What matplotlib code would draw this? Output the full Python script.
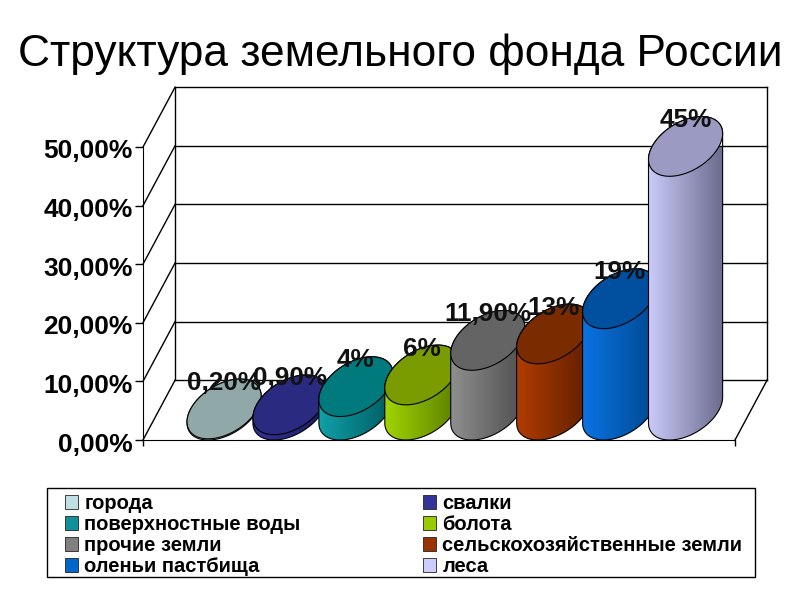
import numpy as np
import matplotlib
matplotlib.use("Agg")
import matplotlib.pyplot as plt
from matplotlib.colors import to_rgb
from matplotlib.patches import Patch, Polygon, Rectangle
from matplotlib.path import Path
from matplotlib.transforms import ScaledTranslation

plt.rcParams["font.family"] = ["Liberation Sans", "DejaVu Sans"]

title = "Структура земельного фонда России"
categories = ["города", "свалки", "поверхностные воды", "болота", "прочие земли",
              "сельскохозяйственные земли", "оленьи пастбища", "леса"]
values = [0.2, 0.9, 4, 6, 11.9, 13, 19, 45]
value_labels = ["0,20%", "0,90%", "4%", "6%", "11,90%", "13%", "19%", "45%"]
y_ticks = [0, 10, 20, 30, 40, 50]
y_tick_labels = ["0,00%", "10,00%", "20,00%", "30,00%", "40,00%", "50,00%"]

left_colors = ["#c4e2e6", "#333399", "#10a0a8", "#a0d400", "#8e8e8e", "#b03c00", "#0a72e2", "#cbcbfb"]
right_colors = ["#7f9494", "#1b1b62", "#005a60", "#5a7c00", "#4e4e4e", "#5e1e00", "#00488e", "#6c6c8e"]
cap_colors = ["#90a8a8", "#2a2a80", "#007a7c", "#7a9c00", "#646464", "#7a2c00", "#00509f", "#9a9ac2"]
legend_colors = ["#c0e0e4", "#333399", "#109098", "#99cc00", "#808080", "#993300", "#0066cc", "#ccccff"]

# depth of the floor and size of the cylinders, in data units
depth_x, depth_y = 0.486, 10.2
radius_x, shear_x, radius_y = 0.507, 0.243, 5.1


def ellipse(center_x, center_y, t):
    x = center_x + radius_x * np.cos(t) + shear_x * np.sin(t)
    y = center_y + radius_y * np.sin(t)
    return np.column_stack([x, y])


fig = plt.figure(figsize=(8, 6), dpi=100)
fig.text(0.5, 0.91, title, ha="center", va="center", fontsize=31.9)

ax = fig.add_axes([143 / 800, 160 / 600, 592 / 800, 293 / 600])
ax.patch.set_alpha(0)
xlim = (-1.23, 7.75)
ylim = (0, 50)

# walls and floor behind the cylinders
wall = dict(color="black", lw=1, clip_on=False, zorder=1)
for y in y_ticks:
    ax.plot([xlim[0], xlim[0] + depth_x], [y, y + depth_y], **wall)
    ax.plot([xlim[0] + depth_x, xlim[1] + depth_x], [y + depth_y, y + depth_y], **wall)
ax.plot([xlim[0] + depth_x, xlim[0] + depth_x], [depth_y, ylim[1] + depth_y], **wall)
ax.plot([xlim[1] + depth_x, xlim[1] + depth_x], [depth_y, ylim[1] + depth_y], **wall)
ax.plot([xlim[1], xlim[1] + depth_x], [0, depth_y], **wall)

t0 = np.arctan2(shear_x, radius_x)
lower_arc = np.linspace(t0 + np.pi, t0 + 2 * np.pi, 60)
upper_arc = np.linspace(t0, t0 + np.pi, 60)
half_width = np.hypot(radius_x, shear_x)

for i, value in enumerate(values):
    z = 3 + i
    base_y = radius_y
    top_y = value + radius_y
    outline = np.vstack([ellipse(i, base_y, lower_arc), ellipse(i, top_y, upper_arc)])
    body = Polygon(outline, closed=True, fc="none", ec="black", lw=0.8, clip_on=False, zorder=z + 0.2)
    ax.add_patch(body)

    # shading across the body, light on the left and dark on the right
    mix = np.linspace(0, 1, 64)[:, None]
    shade = (1 - mix) * np.array(to_rgb(left_colors[i])) + mix * np.array(to_rgb(right_colors[i]))
    img = ax.imshow(shade[None, :, :], extent=(i - half_width, i + half_width, 0, top_y + radius_y),
                    aspect="auto", interpolation="bilinear", zorder=z, clip_on=True)
    img.set_clip_path(Path(outline), ax.transData)

    cap = Polygon(ellipse(i, top_y, np.linspace(0, 2 * np.pi, 120)), closed=True, fc=cap_colors[i],
                  ec="black", lw=0.8, clip_on=False, zorder=z + 0.3)
    ax.add_patch(cap)

for i, value in enumerate(values):
    ax.text(i, value + 2 * radius_y - 0.6, value_labels[i], ha="center", va="center",
            fontsize=18.8, fontweight="bold", color="#111111", zorder=20, clip_on=False)

ax.set_xlim(xlim)
ax.set_ylim(ylim)
ax.set_xticks(xlim)
ax.set_xticklabels([])
ax.set_yticks(y_ticks)
ax.set_yticklabels(y_tick_labels, fontsize=19, fontweight="bold")
ax.tick_params(axis="y", length=5.5, width=1, pad=2)
ax.tick_params(axis="x", length=4, width=1)
ax.spines["top"].set_visible(False)
ax.spines["right"].set_visible(False)
nudge = ScaledTranslation(0, -2 / 100, fig.dpi_scale_trans)
for tick_label in ax.get_yticklabels():
    tick_label.set_transform(tick_label.get_transform() + nudge)

# legend is filled column by column, the reference reads row by row
fig.add_artist(Rectangle((47 / 800, 23 / 600), 708 / 800, 89 / 600, transform=fig.transFigure,
                         fc="white", ec="black", lw=1))
order = list(range(0, 8, 2)) + list(range(1, 8, 2))
handles = [Patch(fc=legend_colors[i], ec="#222222", lw=0.6) for i in order]
labels = [categories[i] for i in order]
leg = fig.legend(handles, labels, ncol=2, loc="lower left", bbox_to_anchor=(65 / 800, 24 / 600),
                 prop=dict(size=14.5, weight="bold"), frameon=False,
                 handlelength=0.65, handleheight=0.65,
                 handletextpad=0.3, labelspacing=0.1, columnspacing=6.1,
                 borderaxespad=0, borderpad=0)

fig.savefig("out.png", dpi=100)
